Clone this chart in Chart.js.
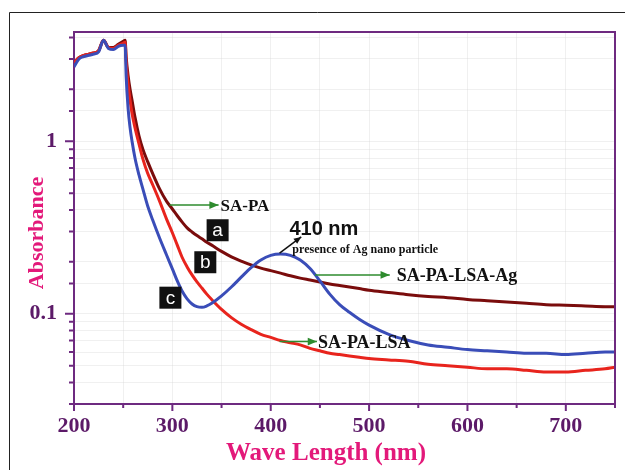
<!DOCTYPE html>
<html>
<head>
<meta charset="utf-8">
<script src="https://cdn.jsdelivr.net/npm/chart.js@4.4.1/dist/chart.umd.min.js"></script>
<style>
  body { margin: 0; background: #fff; }
  #wrap { width: 625px; height: 470px; }
</style>
</head>
<body>
<div id="wrap"><canvas id="uvChart" width="625" height="470"></canvas></div>
<script>
// wavelength grid (nm)
const waveLength = [200, 205, 210, 215, 220, 225, 230, 235, 240, 245, 250, 252, 253, 255, 257, 259, 262, 266, 270, 275,
    280, 287, 294, 300, 305, 310, 315, 320, 325, 330, 335, 340, 350, 360, 370, 380, 390, 400, 410, 420,
    430, 440, 450, 460, 470, 480, 490, 500, 520, 540, 560, 580, 600, 620, 640, 660, 680, 700, 720, 740, 750];

// a: SA-PA
const saPa = [2.85, 3.05, 3.15, 3.2, 3.25, 3.35, 3.85, 3.5, 3.5, 3.65, 3.8, 3.85, 3.1, 2.4, 2.0, 1.73, 1.38, 1.08, 0.9, 0.76,
    0.65, 0.53, 0.45, 0.405, 0.37, 0.34, 0.315, 0.298, 0.284, 0.272, 0.26, 0.25, 0.23, 0.214, 0.202, 0.192, 0.184, 0.178, 0.172, 0.166,
    0.161, 0.157, 0.153, 0.149, 0.146, 0.143, 0.14, 0.137, 0.133, 0.129, 0.126, 0.124, 0.121, 0.119, 0.117, 0.115, 0.113, 0.112, 0.111, 0.11, 0.11];

// b: SA-PA-LSA
const saPaLsa = [2.85, 3.05, 3.15, 3.2, 3.25, 3.35, 3.85, 3.5, 3.45, 3.6, 3.7, 3.75, 2.9, 2.15, 1.73, 1.45, 1.2, 0.97, 0.79, 0.65,
    0.56, 0.45, 0.355, 0.295, 0.25, 0.212, 0.187, 0.168, 0.153, 0.141, 0.13, 0.121, 0.106, 0.095, 0.087, 0.081, 0.076, 0.073, 0.07, 0.068,
    0.066, 0.063, 0.061, 0.059, 0.058, 0.057, 0.056, 0.055, 0.054, 0.053, 0.051, 0.05, 0.049, 0.048, 0.048, 0.047, 0.046, 0.046, 0.047, 0.048, 0.049];

// c: SA-PA-LSA-Ag
const saPaLsaAg = [2.7, 3.0, 3.1, 3.15, 3.2, 3.3, 3.85, 3.45, 3.4, 3.55, 3.6, 3.6, 2.4, 1.55, 1.2, 1.0, 0.8, 0.64, 0.53, 0.42,
    0.35, 0.275, 0.22, 0.182, 0.155, 0.135, 0.122, 0.114, 0.11, 0.109, 0.111, 0.115, 0.127, 0.143, 0.163, 0.185, 0.205, 0.218, 0.222, 0.218,
    0.205, 0.183, 0.155, 0.13, 0.113, 0.102, 0.093, 0.086, 0.076, 0.07, 0.066, 0.064, 0.062, 0.061, 0.06, 0.059, 0.059, 0.058, 0.059, 0.06, 0.06];

const xTicks = [200, 300, 400, 500, 600, 700];
const yTicks = [0.1, 1];

const purple = '#6e2a80';
const labelPurple = '#5c1a68';
const pink = '#e3197a';
const serif = "'Liberation Serif', 'DejaVu Serif', serif";
const sans = "'Liberation Sans', Arial, sans-serif";

const toPoints = vals => vals.map((v, i) => ({ x: waveLength[i], y: v }));

// frame, axis ticks, titles and the text annotations
const extras = {
    id: 'extras',
    beforeDraw(chart) {
        const c = chart.ctx;
        c.save();
        c.strokeStyle = '#222';
        c.lineWidth = 1;
        c.beginPath();
        c.moveTo(9.5, 470);
        c.lineTo(9.5, 12.5);
        c.lineTo(625, 12.5);
        c.stroke();
        c.restore();
    },
    afterDraw(chart) {
        const c = chart.ctx;
        const a = chart.chartArea;
        const xs = chart.scales.x, ys = chart.scales.y;
        const px = v => xs.getPixelForValue(v);
        const py = v => ys.getPixelForValue(v);

        c.save();
        c.strokeStyle = purple;
        c.lineWidth = 2;
        c.beginPath();
        c.moveTo(a.left, a.top);
        c.lineTo(a.right, a.top);
        c.lineTo(a.right, a.bottom);
        c.stroke();

        // tick marks, longer on the labelled ones
        c.beginPath();
        xs.ticks.forEach(t => {
            const x = px(t.value);
            const len = xTicks.includes(t.value) ? 7 : 4;
            c.moveTo(x, a.bottom);
            c.lineTo(x, a.bottom + len);
        });
        ys.ticks.forEach(t => {
            if (t.value >= ys.max - 1e-9) return;
            const y = py(t.value);
            const major = yTicks.some(k => Math.abs(k - t.value) < 1e-9);
            c.moveTo(a.left, y);
            c.lineTo(a.left - (major ? 9 : 5), y);
        });
        c.stroke();

        // axis titles
        c.fillStyle = pink;
        c.textAlign = 'center';
        c.textBaseline = 'middle';
        c.font = 'bold 25px ' + serif;
        c.fillText('Wave Length (nm)', 326, 454);
        c.save();
        c.translate(37, 233);
        c.rotate(-Math.PI / 2);
        c.font = 'bold 22px ' + serif;
        c.fillText('Absorbance', 0, 0);
        c.restore();

        const arrow = (x1, y1, x2, y2, color, head) => {
            c.strokeStyle = color;
            c.fillStyle = color;
            c.lineWidth = 1.5;
            c.beginPath();
            c.moveTo(x1, y1);
            c.lineTo(x2, y2);
            c.stroke();
            const ang = Math.atan2(y2 - y1, x2 - x1);
            c.beginPath();
            c.moveTo(x2, y2);
            c.lineTo(x2 - head * Math.cos(ang - 0.4), y2 - head * Math.sin(ang - 0.4));
            c.lineTo(x2 - head * Math.cos(ang + 0.4), y2 - head * Math.sin(ang + 0.4));
            c.closePath();
            c.fill();
        };
        const label = (txt, x, y, font) => {
            c.fillStyle = '#111';
            c.font = font;
            c.textAlign = 'left';
            c.textBaseline = 'middle';
            c.fillText(txt, x, y);
        };
        const box = (ch, x, y) => {
            c.fillStyle = '#111';
            c.fillRect(x - 11, y - 11, 22, 22);
            c.fillStyle = '#fff';
            c.font = '19px ' + sans;
            c.textAlign = 'center';
            c.textBaseline = 'middle';
            c.fillText(ch, x, y + 1);
        };

        const green = '#2e8b2e';
        // SA-PA
        arrow(px(297), py(0.427), px(347), py(0.427), green, 10);
        label('SA-PA', px(349), py(0.42), 'bold 17px ' + serif);
        // SA-PA-LSA-Ag
        arrow(px(445), py(0.168), px(521), py(0.168), green, 10);
        label('SA-PA-LSA-Ag', px(528), py(0.165), 'bold 18px ' + serif);
        // SA-PA-LSA
        arrow(px(409), py(0.069), px(447), py(0.069), green, 10);
        label('SA-PA-LSA', px(448), py(0.067), 'bold 18px ' + serif);

        // peak
        arrow(px(409), py(0.225), px(431), py(0.279), '#111', 8);
        label('410 nm', px(419), py(0.31), 'bold 20px ' + sans);
        label('presence of Ag nano particle', px(422), py(0.236), 'bold 12px ' + serif);

        box('a', px(346), py(0.305));
        box('b', px(333.5), py(0.199));
        box('c', px(298), py(0.124));
        c.restore();
    }
};

const ctx = document.getElementById('uvChart').getContext('2d');

new Chart(ctx, {
    type: 'line',
    data: {
        datasets: [
            { label: 'SA-PA-LSA-Ag', data: toPoints(saPaLsaAg), borderColor: '#3a4db8' },
            { label: 'SA-PA-LSA', data: toPoints(saPaLsa), borderColor: '#e8241d' },
            { label: 'SA-PA', data: toPoints(saPa), borderColor: '#7a0c0c' }
        ]
    },
    options: {
        responsive: false,
        animation: false,
        layout: { padding: { left: 0, top: 32, right: 10, bottom: 0 } },
        elements: {
            point: { radius: 0 },
            line: { borderWidth: 3, cubicInterpolationMode: 'monotone' }
        },
        plugins: { legend: { display: false }, tooltip: { enabled: false } },
        scales: {
            x: {
                type: 'linear',
                min: 200,
                max: 750,
                afterFit: s => { s.height = 66; },
                ticks: {
                    stepSize: 50,
                    autoSkip: false,
                    maxRotation: 0,
                    padding: 9,
                    color: labelPurple,
                    font: { family: serif, size: 22, weight: 'bold' },
                    callback: v => xTicks.includes(v) ? String(v) : ''
                },
                grid: {
                    color: 'rgba(205,205,205,0.3)',
                    borderDash: [2, 3],
                    drawTicks: false
                },
                border: { color: purple, width: 2 }
            },
            y: {
                type: 'logarithmic',
                min: 0.03,
                max: 4.3,
                afterFit: s => { s.width = 74; },
                ticks: {
                    autoSkip: false,
                    padding: 17,
                    color: labelPurple,
                    font: { family: serif, size: 22, weight: 'bold' },
                    callback: v => {
                        const t = yTicks.find(k => Math.abs(k - v) < 1e-9);
                        return t !== undefined ? String(t) : '';
                    }
                },
                grid: {
                    color: 'rgba(205,205,205,0.3)',
                    borderDash: [2, 3],
                    drawTicks: false
                },
                border: { color: purple, width: 2 }
            }
        }
    },
    plugins: [extras]
});
</script>
</body>
</html>
